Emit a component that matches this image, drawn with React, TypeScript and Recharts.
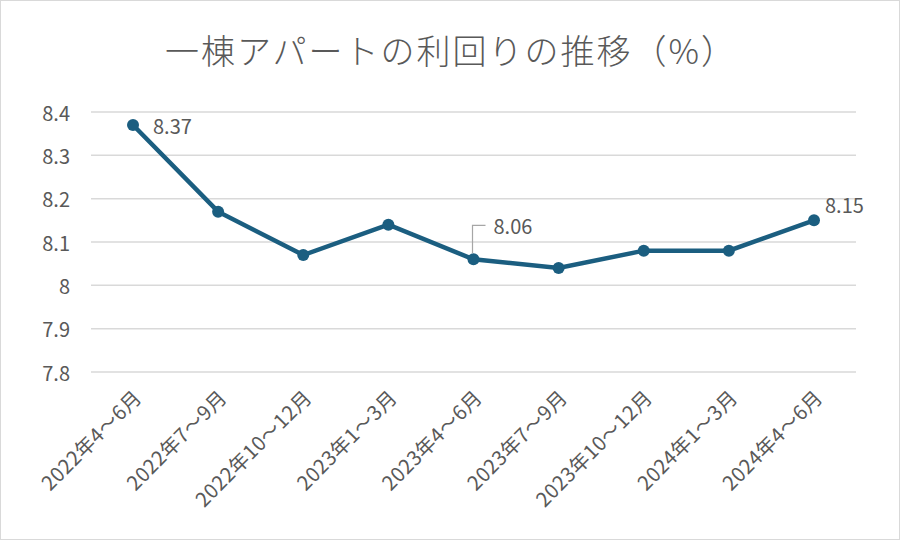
import React from "react";
import { LineChart, Line, XAxis, YAxis, CartesianGrid, LabelList } from "recharts";

const categories = [
  "2022年4～6月",
  "2022年7～9月",
  "2022年10～12月",
  "2023年1～3月",
  "2023年4～6月",
  "2023年7～9月",
  "2023年10～12月",
  "2024年1～3月",
  "2024年4～6月",
];
const yields = [8.37, 8.17, 8.07, 8.14, 8.06, 8.04, 8.08, 8.08, 8.15];
const yTicks = [7.8, 7.9, 8.0, 8.1, 8.2, 8.3, 8.4];
const labeledIndices = [0, 4, 8];

const data = categories.map((c, i) => ({ name: c, value: yields[i] }));

const FONT = "'Noto Sans CJK JP', 'Noto Sans', sans-serif";
const TEXT = "#595959";
const LINE = "#1b5e80";

const XTick = (props: any) => {
  const { x, y, payload } = props;
  return (
    <text
      transform={`translate(${x + 4},${y + 19}) rotate(-45)`}
      textAnchor="end"
      dominantBaseline="central"
      fontSize={20}
      letterSpacing={0.5}
      fill={TEXT}
      fontFamily={FONT}
    >
      {payload.value}
    </text>
  );
};

const YTick = (props: any) => {
  const { x, y, payload } = props;
  return (
    <text x={x} y={y} textAnchor="end" dominantBaseline="central" fontSize={20} fill={TEXT} fontFamily={FONT}>
      {String(Number(payload.value.toFixed(1)))}
    </text>
  );
};

const DataLabel = (props: any) => {
  const { x, y, index, value } = props;
  if (!labeledIndices.includes(index)) return null;
  const txt = value.toFixed(2);
  if (index === 0) {
    return (
      <text x={x + 20} y={y} dominantBaseline="central" fontSize={20} fill={TEXT} fontFamily={FONT}>
        {txt}
      </text>
    );
  }
  if (index === labeledIndices[labeledIndices.length - 1]) {
    return (
      <text x={x + 11} y={y - 16} dominantBaseline="central" fontSize={20} fill={TEXT} fontFamily={FONT}>
        {txt}
      </text>
    );
  }
  return (
    <g>
      <polyline
        points={`${x - 1},${y - 6} ${x - 1},${y - 34} ${x + 12},${y - 34}`}
        fill="none"
        stroke="#a6a6a6"
        strokeWidth={1.2}
      />
      <text x={x + 20} y={y - 34} dominantBaseline="central" fontSize={20} fill={TEXT} fontFamily={FONT}>
        {txt}
      </text>
    </g>
  );
};

export default function App() {
  return (
    <div
      style={{
        position: "absolute",
        left: 0,
        top: 0,
        width: 900,
        height: 540,
        background: "#ffffff",
        boxSizing: "border-box",
        border: "1px solid #d9d9d9",
      }}
    >
      <div
        style={{
          position: "absolute",
          left: 0,
          top: 24,
          width: 900,
          textAlign: "center",
          fontFamily: FONT,
          fontSize: 34,
          lineHeight: "50px",
          fontWeight: 300,
          color: TEXT,
          letterSpacing: 2,
        }}
      >
        一棟アパートの利回りの推移（%）
      </div>
      <div style={{ position: "absolute", left: -1, top: -1 }}>
        <LineChart width={900} height={540} data={data} margin={{ top: 112, right: 44, left: 0, bottom: 0 }}>
          <CartesianGrid vertical={false} stroke="#d9d9d9" strokeWidth={1.5} />
          <XAxis
            dataKey="name"
            height={168}
            axisLine={false}
            tickLine={false}
            tickSize={0}
            interval={0}
            padding={{ left: 42, right: 42 }}
            tick={<XTick />}
          />
          <YAxis
            width={91}
            domain={[7.8, 8.4]}
            ticks={yTicks}
            axisLine={false}
            tickLine={false}
            tickSize={0}
            tickMargin={21}
            tick={<YTick />}
          />
          <Line
            type="linear"
            dataKey="value"
            stroke={LINE}
            strokeWidth={4.5}
            dot={{ r: 6, fill: LINE, stroke: LINE, strokeWidth: 0 }}
            isAnimationActive={false}
          >
            <LabelList dataKey="value" content={<DataLabel />} />
          </Line>
        </LineChart>
      </div>
    </div>
  );
}
